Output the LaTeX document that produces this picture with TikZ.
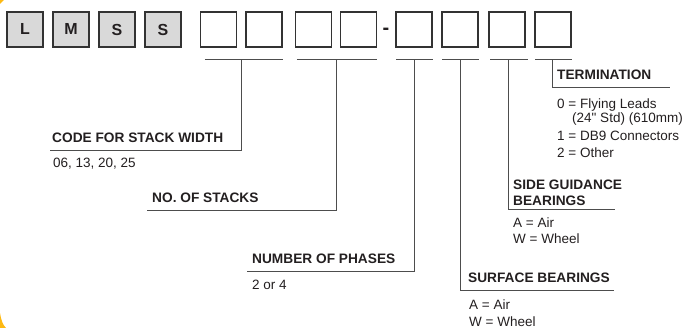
\documentclass[tikz,border=0pt]{standalone}
\usepackage{fontspec}
\setmainfont{Liberation Sans}[Ligatures=TeXOff]
\usetikzlibrary{calc}
\definecolor{inkgray}{HTML}{231F20}
\definecolor{boxgray}{HTML}{D9D9D9}
\definecolor{boxline}{HTML}{333333}
\definecolor{leadgray}{HTML}{4D4D4D}
\definecolor{accent}{HTML}{FDB913}
\tikzset{
	letterbox/.style={draw=boxline, fill=boxgray, line width=1.2pt, minimum width=36pt, minimum height=35pt, inner sep=0pt, text=inkgray, font=\bfseries\fontsize{16}{16}\selectfont},
	blankbox/.style={draw=boxline, line width=1.2pt, minimum width=36pt, minimum height=35pt, inner sep=0pt},
	lead/.style={leadgray, line width=0.9pt},
	heading/.style={inner sep=0pt, anchor=base west, align=left, text=inkgray, font=\bfseries\fontsize{13.7}{16}\selectfont},
	values/.style={inner sep=0pt, anchor=base west, align=left, text=inkgray, font=\fontsize{13.5}{16}\selectfont},
	block/.style={anchor=north west}
}
\begin{document}
\begin{tikzpicture}[x=1pt, y=-1pt]
		\useasboundingbox (0,0) rectangle (690,328);
		\fill[accent] (0,0) -- (4,0) -- (0,4) -- cycle;
		\fill[accent] (0,313) .. controls (1,320) and (3,325) .. (6,328) -- (0,328) -- cycle;
		% part number boxes
		\node[letterbox] (l1) at (25,29.5) {L};
		\node[letterbox] (l2) at (71,29.5) {M};
		\node[letterbox] (l3) at (117,29.5) {S};
		\node[letterbox] (l4) at (163,29.5) {S};
		\node[blankbox] (d1) at (218.5,29.5) {};
		\node[blankbox] (d2) at (264,29.5) {};
		\node[blankbox] (d3) at (313.5,29.5) {};
		\node[blankbox] (d4) at (358.5,29.5) {};
		\node[inner sep=0pt, text=inkgray, font=\bfseries\fontsize{20}{20}\selectfont] (dash) at (386,31) {-};
		\node[blankbox] (d5) at (414,29.5) {};
		\node[blankbox] (d6) at (460,29.5) {};
		\node[blankbox] (d7) at (507,29.5) {};
		\node[blankbox] (d8) at (553,29.5) {};
		% top bars
		\draw[lead] ([shift={(5,12)}]d1.south west) -- ([shift={(0,12)}]d2.south east);
		\draw[lead] ([shift={(2,12)}]d3.south west) -- ([shift={(0,12)}]d4.south east);
		\draw[lead] ([shift={(1,12)}]d5.south west) -- ([shift={(0,12)}]d5.south east);
		\draw[lead] ([shift={(1,12)}]d6.south west) -- ([shift={(0,12)}]d6.south east);
		\draw[lead] ([shift={(2,12)}]d7.south west) -- ([shift={(2,12)}]d7.south east);
		\draw[lead] ([shift={(1,12)}]d8.south west) -- ([shift={(0,12)}]d8.south east);
		\coordinate (k1) at ([shift={(0,12)}]$(d1.south east)!.5!(d2.south west)$);
		\coordinate (k2) at ([shift={(0,12)}]$(d3.south east)!.5!(d4.south west)$);
		\coordinate (k3) at ([shift={(0,12)}]d5.south);
		\coordinate (k4) at ([shift={(0,12)}]d6.south);
		\coordinate (k5) at ([shift={(1,12)}]d7.south);
		\coordinate (k6) at ([shift={(-1,12)}]d8.south);
		% labels
		\node[heading] (hwidth) at (52,143) {CODE FOR STACK WIDTH};
		\node[values] (vwidth) at (53,168) {06, 13, 20, 25};
		\coordinate (uwidth) at (50,150);
		\node[heading] (hstacks) at (152,203) {NO. OF STACKS};
		\coordinate (ustacks) at (147,210);
		\node[heading] (hphases) at (252,264) {NUMBER OF PHASES};
		\node[values] (vphases) at (252,290) {2 or 4};
		\coordinate (uphases) at (247,271);
		\node[heading] (hsurface) at (468,283) {SURFACE BEARINGS};
		\node[values, block] (vsurface) at (469,299.2) {A = Air\\[1pt]W = Wheel};
		\coordinate (usurface) at (614,290);
		\node[heading, block] (hside) at (513,180.2) {SIDE GUIDANCE\\BEARINGS};
		\node[values, block] (vside) at (513,217.2) {A = Air\\W = Wheel};
		\coordinate (uside) at (615,209);
		\node[heading] (hterm) at (557,80) {TERMINATION};
		\node[values, block] (vterm) at (557,98.2) {0 = Flying Leads\\[-2pt]\hspace{15pt}(24" Std) (610mm)\\[2pt]1 = DB9 Connectors\\[1pt]2 = Other};
		\coordinate (uterm) at (670,87);
		% leaders
		\draw[lead] (k1) |- (uwidth);
		\draw[lead] (k2) |- (ustacks);
		\draw[lead] (k3) |- (uphases);
		\draw[lead] (k4) |- (usurface);
		\draw[lead] (k5) |- (uside);
		\draw[lead] (k6) |- (uterm);
		\end{tikzpicture}
\end{document}
